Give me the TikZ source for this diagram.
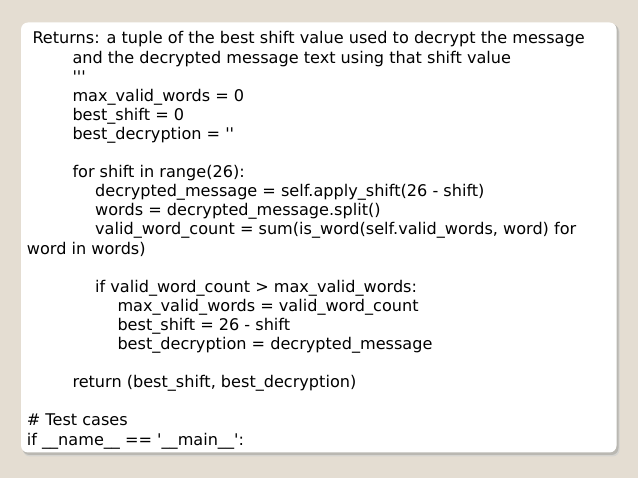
\documentclass[tikz,border=0pt]{standalone}
\usepackage{fontspec}
\newfontfamily\codefont{DejaVu Sans}
\definecolor{bgbeige}{HTML}{E4DDD2}
\definecolor{shadowgray}{HTML}{A9A69F}
\begin{document}
\begin{tikzpicture}[x=1pt,y=1pt,
  codeline/.style={anchor=base west,inner sep=0pt,font=\codefont\fontsize{16.1}{19}\selectfont,text=black}]
\useasboundingbox (0,0) rectangle (638,478);
\fill[bgbeige] (0,0) rectangle (638,478);
\fill[shadowgray!50,rounded corners=7pt] (23,21.5) rectangle (619.5,453);
\fill[shadowgray!80,rounded corners=7pt] (22.5,23) rectangle (618.5,454);
\fill[white,rounded corners=7pt] (21,25.5) rectangle (616.5,455.5);
\def\lh{19.1}
\node[codeline] (l1)  at (32.3,478-44) {Returns: a tuple of the best shift value used to decrypt the message};
\node[codeline] (l2)  at (72.3,478-44-1*\lh) {and the decrypted message text using that shift value};
\node[codeline] (l3)  at (72.3,478-44-2*\lh) {'''};
\node[codeline] (l4)  at (72.3,478-44-3*\lh) {max\_valid\_words = 0};
\node[codeline] (l5)  at (72.3,478-44-4*\lh) {best\_shift = 0};
\node[codeline] (l6)  at (72.3,478-44-5*\lh) {best\_decryption = ''};
\node[codeline] (l8)  at (72.3,478-44-7*\lh) {for shift in range(26):};
\node[codeline] (l9)  at (95,478-44-8*\lh) {decrypted\_message = self.apply\_shift(26 - shift)};
\node[codeline] (l10) at (95,478-44-9*\lh) {words = decrypted\_message.split()};
\node[codeline] (l11) at (95,478-44-10*\lh) {valid\_word\_count = sum(is\_word(self.valid\_words, word) for};
\node[codeline] (l12) at (26.7,478-44-11*\lh) {word in words)};
\node[codeline] (l14) at (95,478-44-13*\lh) {if valid\_word\_count > max\_valid\_words:};
\node[codeline] (l15) at (117.3,478-44-14*\lh) {max\_valid\_words = valid\_word\_count};
\node[codeline] (l16) at (117.3,478-44-15*\lh) {best\_shift = 26 - shift};
\node[codeline] (l17) at (117.3,478-44-16*\lh) {best\_decryption = decrypted\_message};
\node[codeline] (l19) at (72.3,478-44-18*\lh) {return (best\_shift, best\_decryption)};
\node[codeline] (l21) at (26.7,478-44-20*\lh) {\# Test cases};
\node[codeline] (l22) at (26.7,478-44-21*\lh) {if \_\_name\_\_ == '\_\_main\_\_':};
\end{tikzpicture}
\end{document}
